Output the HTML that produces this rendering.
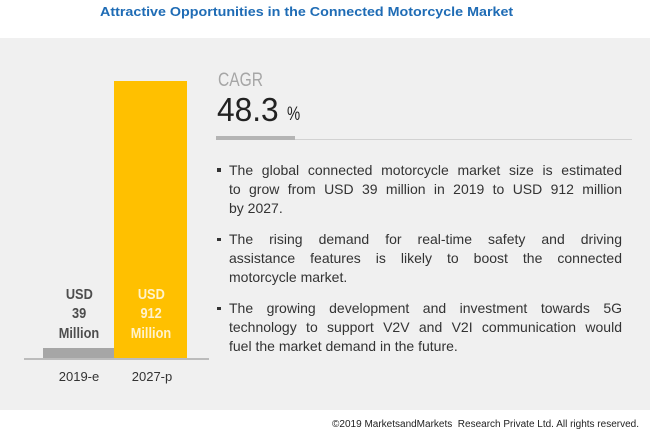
<!DOCTYPE html>
<html>
<head>
<meta charset="utf-8">
<style>
  html, body { margin:0; padding:0; }
  body { width:650px; height:446px; position:relative; background:#ffffff; overflow:hidden;
         font-family:"Liberation Sans", Arial, sans-serif; }
  .abs { position:absolute; white-space:nowrap; }
  #title { left:100px; top:5px; font-size:13px; line-height:13px; font-weight:bold; color:#1f6cb5;
           transform:scaleX(1.1); transform-origin:left top; }
  #panel { position:absolute; left:0; top:38px; width:650px; height:372px; background:#f0f0f0; }
  .bar { position:absolute; }
  .lbl { position:absolute; width:90px; text-align:center; font-size:14.5px; line-height:19.3px; font-weight:bold; }
  .lbl span { display:inline-block; transform:scaleX(0.88); }
  .year { position:absolute; width:70px; text-align:center; font-size:13px; line-height:13px; color:#333; }
  .para { position:absolute; left:229px; width:393px; font-size:14px; line-height:19.2px; color:#333; }
  .para .l { display:block; white-space:nowrap; text-align:justify; text-align-last:justify; }
  .para .last { display:block; white-space:nowrap; text-align:left; }
  .bul { position:absolute; left:217px; width:3.5px; height:3.5px; background:#333; }
</style>
</head>
<body>
<div id="title" class="abs">Attractive Opportunities in the Connected Motorcycle Market</div>
<div id="panel"></div>

<!-- bars -->
<div class="bar" style="left:114px; top:81px; width:73px; height:278px; background:#ffc000;"></div>
<div class="bar" style="left:43px; top:348px; width:71px; height:11px; background:#a6a6a6;"></div>
<div class="bar" style="left:24px; top:358px; width:185px; height:1.5px; background:#bcbcbc;"></div>

<div class="lbl" style="left:34px; top:286px; color:#4d4d4d;"><span>USD</span><br><span>39</span><br><span>Million</span></div>
<div class="lbl" style="left:106px; top:286px; color:#fff2cc;"><span>USD</span><br><span>912</span><br><span>Million</span></div>

<div class="year" style="left:44px; top:370px;">2019-e</div>
<div class="year" style="left:117px; top:370px;">2027-p</div>

<!-- CAGR -->
<div class="abs" style="left:218px; top:71px; font-size:19px; line-height:19px; color:#a6a6a6; transform:scaleX(0.82); transform-origin:left top;">CAGR</div>
<div class="abs" style="left:217px; top:93px; font-size:33px; line-height:33px; color:#222; transform:scaleX(0.96); transform-origin:left top;">48.3</div>
<div class="abs" style="left:287px; top:105px; font-size:19px; line-height:19px; color:#222; transform:scaleX(0.78); transform-origin:left top;">%</div>

<div class="bar" style="left:216px; top:136px; width:79px; height:4px; background:#b4b4b4;"></div>
<div class="bar" style="left:295px; top:138.5px; width:337px; height:1.2px; background:#d2d2d2;"></div>

<!-- bullets -->
<div class="bul" style="top:168.3px;"></div>
<div class="para" style="top:160.6px;">
  <span class="l">The global connected motorcycle market size is estimated</span>
  <span class="l">to grow from USD 39 million in 2019 to USD 912 million</span>
  <span class="last">by 2027.</span>
</div>

<div class="bul" style="top:237.6px;"></div>
<div class="para" style="top:230px;">
  <span class="l">The rising demand for real-time safety and driving</span>
  <span class="l">assistance features is likely to boost the connected</span>
  <span class="last">motorcycle market.</span>
</div>

<div class="bul" style="top:306.6px;"></div>
<div class="para" style="top:299px;">
  <span class="l">The growing development and investment towards 5G</span>
  <span class="l">technology to support V2V and V2I communication would</span>
  <span class="last">fuel the market demand in the future.</span>
</div>

<div class="abs" style="right:11px; top:420px; font-size:10px; line-height:10px; color:#222;">©2019 MarketsandMarkets&nbsp; Research Private Ltd. All rights reserved.</div>
</body>
</html>
